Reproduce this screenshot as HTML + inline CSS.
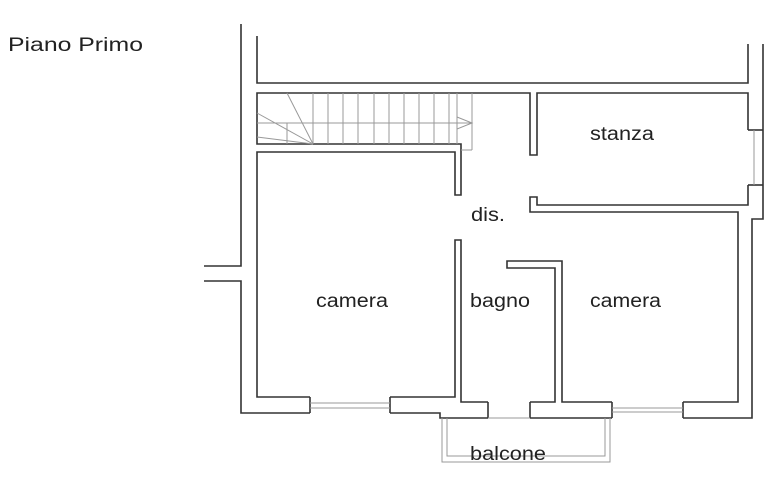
<!DOCTYPE html>
<html><head><style>
html,body{margin:0;padding:0;background:#fff;width:774px;height:500px;overflow:hidden}
svg{display:block}
text{font-family:"Liberation Sans",sans-serif;font-size:19px;fill:#222}
</style></head><body>
<svg width="774" height="500" viewBox="0 0 774 500">
<g fill="none" stroke="#333" stroke-width="1.6">
<polyline points="241,24 241,266 204,266"/>
<polyline points="204,281 241,281 241,413 310,413"/>
<polyline points="257,36 257,83 748,83 748,44"/>
<polyline points="390,413 440,413 440,418 488,418"/>
<line x1="530" y1="418" x2="612" y2="418"/>
<polyline points="310,413 310,397"/><polyline points="390,413 390,397"/>
<polyline points="488,418 488,402"/><polyline points="530,418 530,402"/>
<polyline points="612,418 612,402"/><polyline points="683,418 683,402"/>
<polyline points="310,397 257,397 257,152 455,152 455,195 461,195 461,144 257,144 257,93 530,93 530,155 537,155 537,93 748,93 748,130"/>
<polyline points="390,397 455,397 455,240 461,240 461,402 488,402"/>
<line x1="748" y1="130" x2="763" y2="130"/>
<line x1="748" y1="185" x2="763" y2="185"/>
<polyline points="748,185 748,205 537,205 537,197 530,197 530,212 738,212 738,402 683,402"/>
<polyline points="530,402 555,402 555,268 507,268 507,261 562,261 562,402 612,402"/>
<polyline points="763,44 763,219 752,219 752,418 683,418"/>
</g>
<g fill="none" stroke="#999" stroke-width="1">
<line x1="310" y1="403" x2="390" y2="403"/><line x1="310" y1="408" x2="390" y2="408"/>
<line x1="683" y1="408" x2="612" y2="408"/><line x1="683" y1="412" x2="612" y2="412"/>
<line x1="488" y1="418" x2="530" y2="418"/>
<line x1="754" y1="130" x2="754" y2="185"/>
<polyline points="442,418 442,462 610,462 610,418"/>
<polyline points="447,418 447,456 605,456 605,418"/>
<line x1="257" y1="123" x2="472" y2="123"/>
<line x1="287" y1="123" x2="287" y2="144"/>
<line x1="257" y1="113" x2="313" y2="144"/>
<line x1="257" y1="137" x2="313" y2="144"/>
<line x1="287" y1="93" x2="313" y2="144"/>
<line x1="313" y1="93" x2="313" y2="144"/><line x1="328" y1="93" x2="328" y2="144"/>
<line x1="343" y1="93" x2="343" y2="144"/><line x1="358" y1="93" x2="358" y2="144"/>
<line x1="374" y1="93" x2="374" y2="144"/><line x1="389" y1="93" x2="389" y2="144"/>
<line x1="404" y1="93" x2="404" y2="144"/><line x1="419" y1="93" x2="419" y2="144"/>
<line x1="434" y1="93" x2="434" y2="144"/><line x1="449" y1="93" x2="449" y2="144"/>
<line x1="457" y1="93" x2="457" y2="144"/><line x1="472" y1="93" x2="472" y2="150"/>
<line x1="461" y1="150" x2="472" y2="150"/>
<polyline points="457,117 472,123 457,129"/>
</g>
<text x="8" y="51" textLength="135" lengthAdjust="spacingAndGlyphs">Piano Primo</text>
<text x="316" y="307" textLength="72" lengthAdjust="spacingAndGlyphs">camera</text>
<text x="470" y="307" textLength="60" lengthAdjust="spacingAndGlyphs">bagno</text>
<text x="590" y="307" textLength="71" lengthAdjust="spacingAndGlyphs">camera</text>
<text x="590" y="140" textLength="64" lengthAdjust="spacingAndGlyphs">stanza</text>
<text x="471" y="221" textLength="34" lengthAdjust="spacingAndGlyphs">dis.</text>
<text x="470" y="460" textLength="76" lengthAdjust="spacingAndGlyphs">balcone</text>
</svg>
</body></html>
